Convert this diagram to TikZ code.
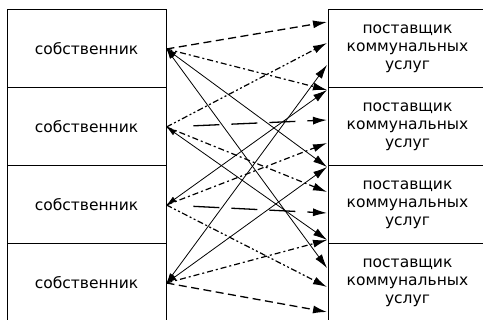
\documentclass[tikz,border=0pt]{standalone}
\usepackage{fontspec}
\setmainfont{DejaVu Sans}
\usetikzlibrary{arrows.meta}
\tikzset{
  ownbox/.style={draw,line width=1pt,minimum width=159pt,minimum height=78pt,inner sep=0pt,font=\fontsize{15.5}{18}\selectfont},
  provbox/.style={ownbox,align=center},
  arr/.style={-{Latex[length=14pt,width=8pt]}},
  bothways/.style={{Latex[length=10pt,width=6pt]}-{Latex[length=14pt,width=8pt]},line width=0.8pt},
  dashline/.style={arr,line width=1.3pt,dash pattern=on 8pt off 4.5pt},
  dotline/.style={arr,line width=1.2pt,dash pattern=on 6pt off 3pt on 2pt off 3pt},
  dotdotline/.style={arr,line width=1.2pt,dash pattern=on 6pt off 2.5pt on 2pt off 2.5pt on 2pt off 2.5pt},
  longline/.style={arr,line width=1.3pt,dash pattern=on 26pt off 12pt,shorten <=27pt}
}
\begin{document}
\begin{tikzpicture}[x=1pt,y=-1pt]
\useasboundingbox (0,0) rectangle (483,320);
% owners
\node[ownbox] (own1) at (86.5,49) {собственник};
\node[ownbox] (own2) at (86.5,127) {собственник};
\node[ownbox] (own3) at (86.5,205) {собственник};
\node[ownbox] (own4) at (86.5,283) {собственник};
% providers
\node[provbox] (prov1) at (407.5,49) {поставщик\\коммунальных\\услуг};
\node[provbox] (prov2) at (407.5,127) {поставщик\\коммунальных\\услуг};
\node[provbox] (prov3) at (407.5,205) {поставщик\\коммунальных\\услуг};
\node[provbox] (prov4) at (407.5,283) {поставщик\\коммунальных\\услуг};
% arrow ends on the providers
\foreach \n/\y in {1/22,2/43,3/65,4/90,5/120,6/143,7/167,8/192,9/213,10/240,11/268,12/287,13/312}
  \coordinate (t\n) at (327,\y);

\draw[dashline] (own1.east) -- (t1);
\draw[dotline] (own1.east) -- (t4);
\draw[bothways] (own1.east) -- (t7);
\draw[bothways] (own1.east) -- (t11);

\draw[dotdotline] (own2.east) -- (t2);
\draw[longline] (own2.east) -- (t5);
\draw[dotline] (own2.east) -- (t8);
\draw[bothways] (own2.east) -- (t10);

\draw[dotline] (own3.east) -- (t6);
\draw[longline] (own3.east) -- (t9);
\draw[dotdotline] (own3.east) -- (t12);
\draw[bothways] (own3.east) -- (t4);

\draw[dotline] (own4.east) -- (t10);
\draw[dashline] (own4.east) -- (t13);
\draw[bothways] (own4.east) -- (t3);
\draw[bothways] (own4.east) -- (t7);
\end{tikzpicture}
\end{document}
